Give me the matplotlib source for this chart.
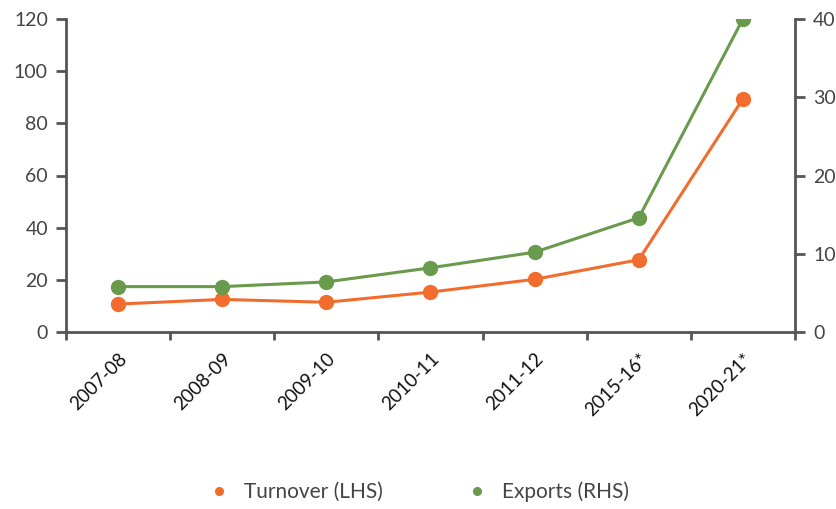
import matplotlib
matplotlib.use("Agg")
import matplotlib.pyplot as plt
import numpy as np

categories = ["2007-08", "2008-09", "2009-10", "2010-11", "2011-12", "2015-16*", "2020-21*"]
turnover = [10.7, 12.5, 11.4, 15.3, 20.2, 27.7, 89.4]
exports = [5.8, 5.8, 6.4, 8.2, 10.2, 14.6, 40.0]
left_ticks = [0, 20, 40, 60, 80, 100, 120]
right_ticks = [0, 10, 20, 30, 40]

orange = "#F26D2D"
green = "#6A9A4C"
axcol = "#555555"
txtcol = "#444444"

plt.rcParams['font.family'] = ['Lato', 'DejaVu Sans']

fig = plt.figure(figsize=(8.37, 5.09), dpi=100)
ax = fig.add_axes([66/837, 1-332/509, (795-66)/837, (332-19)/509])
ax2 = ax.twinx()

x = np.arange(len(categories)) + 0.5
l1, = ax.plot(x, turnover, color=orange, lw=2.2, marker='o', ms=10, label="Turnover (LHS)", zorder=3)
l2, = ax2.plot(x, exports, color=green, lw=2.2, marker='o', ms=10, label="Exports (RHS)", zorder=3)

ax.set_xlim(0, len(categories))
ax.set_ylim(0, 120)
ax2.set_ylim(0, 40)
ax.set_yticks(left_ticks)
ax2.set_yticks(right_ticks)
ax.set_xticks(np.arange(len(categories) + 1))
ax.set_xticklabels([])
ax.set_xticks(x, minor=True)
ax.set_xticklabels(categories, minor=True, rotation=45, ha='right', rotation_mode='anchor',
                   fontsize=13.5, color="#111111")
ax.tick_params(axis='x', which='minor', length=0, pad=13)
ax.tick_params(axis='x', which='major', length=6, width=2, color=axcol, direction='out')
ax.tick_params(axis='y', length=7, width=2, color=axcol, labelsize=14, labelcolor=txtcol, pad=6)
ax2.tick_params(axis='y', length=7, width=2, color=axcol, labelsize=14, labelcolor=txtcol, pad=6)

for a in (ax, ax2):
    a.spines['top'].set_visible(False)
    for s in ('left', 'right', 'bottom'):
        a.spines[s].set_color(axcol)
        a.spines[s].set_linewidth(2)
ax.spines['right'].set_visible(False)
ax2.spines['left'].set_visible(False)
ax2.spines['bottom'].set_visible(False)

fig.legend(handles=[l1, l2], loc='center', bbox_to_anchor=(0.5, 1-492/509), ncol=2,
           frameon=False, fontsize=15, labelcolor=txtcol, markerscale=0.55,
           handlelength=1.0, handletextpad=0.7, columnspacing=4.0)
for h in fig.legends[0].legend_handles:
    h.set_linestyle('None')

fig.savefig("out.png", dpi=100)
